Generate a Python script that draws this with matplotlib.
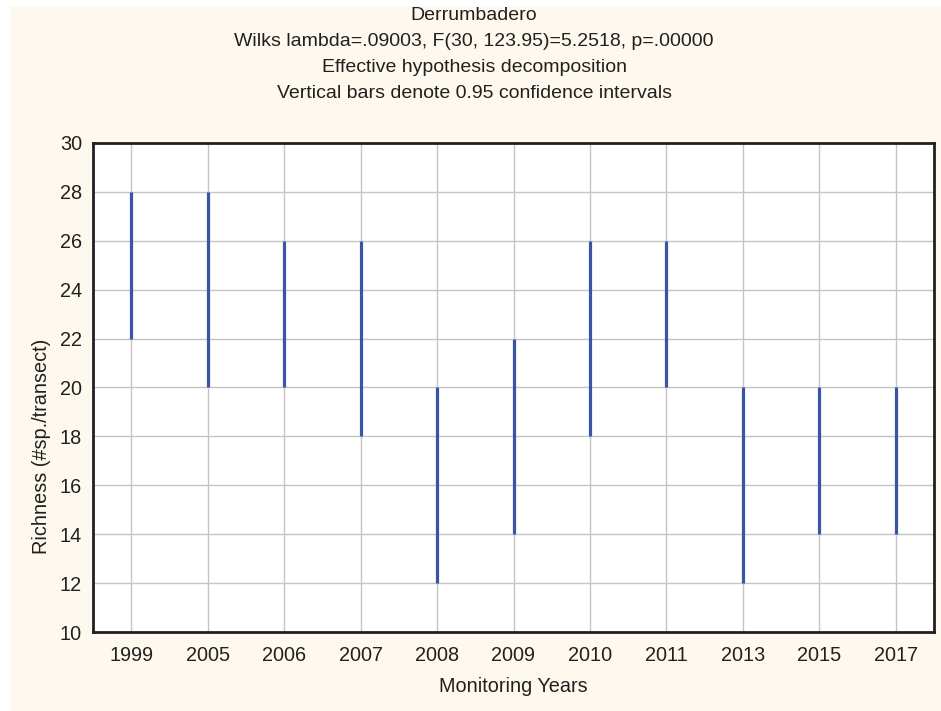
import matplotlib
matplotlib.use("Agg")
import matplotlib.pyplot as plt
from matplotlib.patches import Rectangle

years = ["1999", "2005", "2006", "2007", "2008", "2009", "2010", "2011", "2013", "2015", "2017"]
lower = [22, 20, 20, 18, 12, 14, 18, 20, 12, 14, 14]
upper = [28, 28, 26, 26, 20, 22, 26, 26, 20, 20, 20]
yticks = [10, 12, 14, 16, 18, 20, 22, 24, 26, 28, 30]

plt.rcParams['font.family'] = ['Liberation Sans', 'DejaVu Sans']

fig = plt.figure(figsize=(9.41, 7.11), dpi=100)
fig.patch.set_facecolor('#fef9ee')
# white margin strips at top/left
fig.patches.append(Rectangle((0, 0), 9/941, 1, transform=fig.transFigure, color='white', zorder=0))
fig.patches.append(Rectangle((0, 1 - 5/711), 1, 5/711, transform=fig.transFigure, color='white', zorder=0))

ax = fig.add_axes([93/941, 1 - 632/711, (934 - 93)/941, (632 - 143)/711])
ax.set_facecolor('white')

x = list(range(len(years)))
ax.vlines(x, lower, upper, colors='#3a55a6', linewidth=2.3, zorder=3)

ax.set_xlim(-0.5, len(years) - 0.5)
ax.set_ylim(10, 30)
ax.set_yticks(yticks)
ax.set_xticks(x)
ax.set_xticklabels(years)
ax.grid(True, color='#c4c4c4', linewidth=1.0, zorder=0)
ax.set_axisbelow(True)
for s in ax.spines.values():
    s.set_linewidth(2.0)
    s.set_color('#231f20')
ax.tick_params(axis='x', length=0, labelsize=14.3, colors='#231f20', pad=10)
ax.tick_params(axis='y', length=0, labelsize=14.3, colors='#231f20', pad=8)

ax.set_xlabel("Monitoring Years", fontsize=14.3, color='#231f20', labelpad=9)
ax.set_ylabel("Richness (#sp./transect)", fontsize=14.3, color='#231f20',
              va='center', ha='center')
ax.yaxis.set_label_coords(-0.0618, 0.38)

titles = ["Derrumbadero",
          "Wilks lambda=.09003, F(30, 123.95)=5.2518, p=.00000",
          "Effective hypothesis decomposition",
          "Vertical bars denote 0.95 confidence intervals"]
cx = 474 / 941
for i, t in enumerate(titles):
    fig.text(cx, 1 - (15 + 26 * i) / 711, t, ha='center', va='center',
             fontsize=14, color='#231f20')

fig.savefig("out.png", dpi=100, facecolor=fig.get_facecolor())
